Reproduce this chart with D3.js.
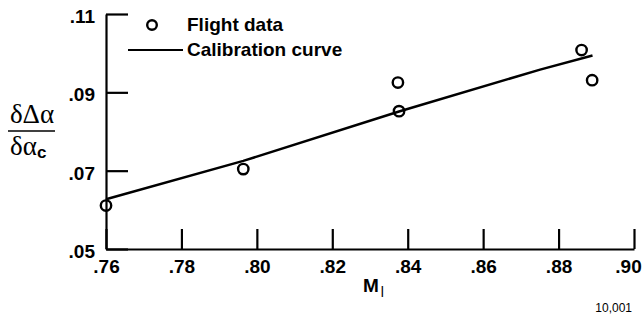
<!DOCTYPE html>
<html>
<head>
<meta charset="utf-8">
<script src="https://cdn.jsdelivr.net/npm/d3@7"></script>
<style>
  body { margin: 0; background: #fff; }
  svg { display: block; }
  .axis text { font-family: "Liberation Sans", Arial, sans-serif; font-weight: bold; font-size: 19px; fill: #000; }
  .axis path, .axis line { stroke: #000; stroke-width: 2.2; }
</style>
</head>
<body>
<script>
// flight data points (Mach number vs. derivative)
var machFlight  = [0.760, 0.7964, 0.8377, 0.8374, 0.8861, 0.8889];
var ratioFlight = [0.0611, 0.0704, 0.0852, 0.0925, 0.1008, 0.0931];

// calibration curve
var machCal  = [0.760, 0.7964, 0.8377, 0.8751, 0.889];
var ratioCal = [0.0627, 0.0725, 0.0851, 0.0958, 0.0994];

var xTicks = [0.76, 0.78, 0.80, 0.82, 0.84, 0.86, 0.88, 0.90];
var yTicks = [0.05, 0.07, 0.09, 0.11];

var width = 643, height = 317;
var plotLeft = 106, plotRight = 634, plotTop = 14, plotBottom = 249;

var fmt = function(d) { return d.toFixed(2).replace(/^0/, ""); };

var x = d3.scaleLinear().domain([0.76, 0.90]).range([plotLeft, plotRight]);
var y = d3.scaleLinear().domain([0.05, 0.11]).range([plotBottom, plotTop]);

var svg = d3.select("body")
    .append("svg")
        .attr("width", width)
        .attr("height", height);

svg.append("rect").attr("width", width).attr("height", height).attr("fill", "#fff");

svg.append("g")
    .attr("class", "axis")
    .attr("transform", "translate(" + plotLeft + ",0)")
    .call(d3.axisLeft(y).tickValues(yTicks).tickFormat(fmt)
        .tickSizeInner(-22).tickSizeOuter(0).tickPadding(11))
    .selectAll("text").attr("dy", "0.45em");

var xAxis = svg.append("g")
    .attr("class", "axis")
    .attr("transform", "translate(0," + plotBottom + ")")
    .call(d3.axisBottom(x).tickValues(xTicks).tickFormat(fmt)
        .tickSizeInner(-20).tickSizeOuter(0).tickPadding(11));
// last label sits against the right edge
xAxis.selectAll("text").filter(function(d) { return d === 0.90; }).attr("dx", -6);

// calibration curve
svg.append("path")
    .datum(machCal.map(function(m, i) { return [m, ratioCal[i]]; }))
    .attr("fill", "none")
    .attr("stroke", "#000")
    .attr("stroke-width", 2.5)
    .attr("d", d3.line()
        .x(function(d) { return x(d[0]); })
        .y(function(d) { return y(d[1]); }));

// flight data
svg.append("g")
    .selectAll("circle")
    .data(machFlight)
    .enter()
    .append("circle")
        .attr("cx", function(d) { return x(d); })
        .attr("cy", function(d, i) { return y(ratioFlight[i]); })
        .attr("r", 5.2)
        .attr("fill", "none")
        .attr("stroke", "#000")
        .attr("stroke-width", 2.4);

// legend
var legend = svg.append("g")
    .style("font-family", "'Liberation Sans', Arial, sans-serif")
    .style("font-weight", "bold")
    .style("font-size", "19px");
legend.append("circle")
    .attr("cx", 152).attr("cy", 25).attr("r", 4.8)
    .attr("fill", "none").attr("stroke", "#000").attr("stroke-width", 2.4);
legend.append("text").attr("x", 187).attr("y", 31).text("Flight data");
legend.append("line")
    .attr("x1", 128).attr("x2", 183).attr("y1", 50).attr("y2", 50)
    .attr("stroke", "#000").attr("stroke-width", 2.2);
legend.append("text").attr("x", 187).attr("y", 56).text("Calibration curve");

// y axis label: fraction
var ylab = svg.append("g");
ylab.append("text")
    .attr("x", 32).attr("y", 123)
    .attr("text-anchor", "middle")
    .style("font-family", "'Liberation Serif', 'DejaVu Serif', serif")
    .style("font-size", "27px")
    .text("δΔα");
ylab.append("line")
    .attr("x1", 8).attr("x2", 55).attr("y1", 131).attr("y2", 131)
    .attr("stroke", "#000").attr("stroke-width", 1.6);
var den = ylab.append("text")
    .attr("x", 10).attr("y", 155)
    .style("font-family", "'Liberation Serif', 'DejaVu Serif', serif")
    .style("font-size", "27px");
den.append("tspan").text("δα");
den.append("tspan")
    .attr("dy", 3)
    .style("font-family", "'Liberation Sans', Arial, sans-serif")
    .style("font-weight", "bold")
    .style("font-size", "17px")
    .text("c");

// x axis label
var xlab = svg.append("text")
    .attr("x", 363).attr("y", 292)
    .style("font-family", "'Liberation Sans', Arial, sans-serif")
    .style("font-weight", "bold")
    .style("font-size", "19px");
xlab.append("tspan").text("M");
xlab.append("tspan").attr("dx", 2).attr("dy", 5).style("font-size", "14px").style("font-weight", "normal").text("l");

svg.append("text")
    .attr("x", 632).attr("y", 312)
    .attr("text-anchor", "end")
    .style("font-family", "'Liberation Sans', Arial, sans-serif")
    .style("font-size", "12px")
    .text("10,001");
</script>
</body>
</html>
